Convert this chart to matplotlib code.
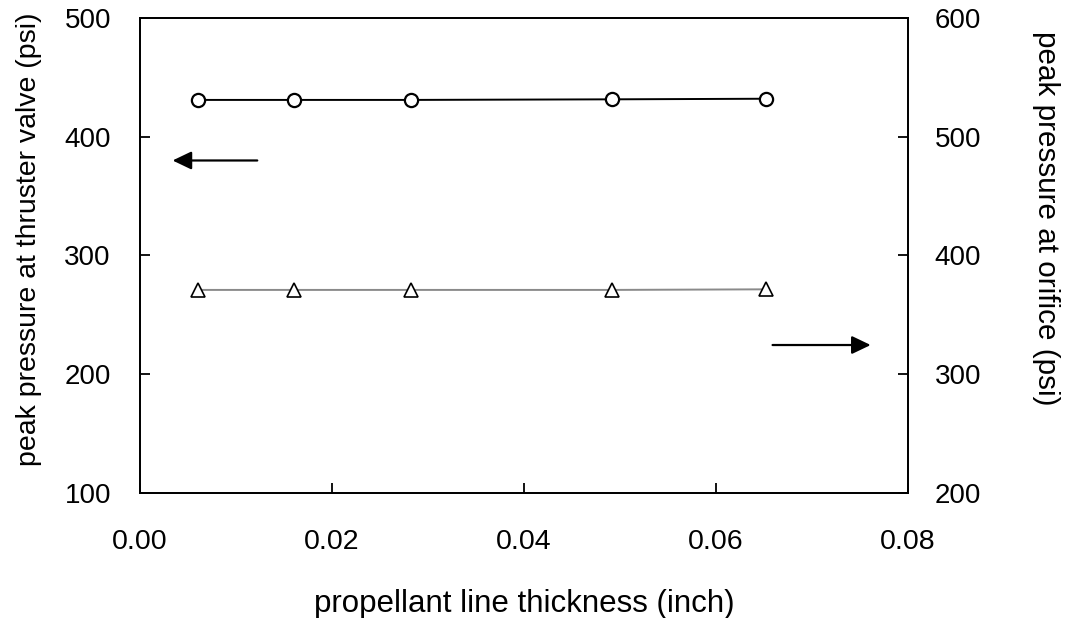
import numpy as np
import matplotlib.pyplot as plt

plt.rcParams['font.family'] = ['Liberation Sans', 'DejaVu Sans']

thickness = [0.0060, 0.0160, 0.0282, 0.0492, 0.0652]
p_valve = [431, 431, 431, 431.5, 432]
p_orifice = [371, 371, 371, 371, 371.5]

fig = plt.figure(figsize=(10.65, 6.18), dpi=100)
ax = fig.add_axes([0.1315, 0.2023, 0.7211, 0.7686])
ax2 = ax.twinx()

ax.plot(thickness, p_valve, '-o', color='black', lw=1.4, ms=9.5,
        mfc='white', mec='black', mew=1.6)
ax2.plot(thickness, p_orifice, '-^', color='#8a8a8a', lw=1.4, ms=10,
         mfc='white', mec='black', mew=1.2)

ax.set_xlim(0, 0.08)
ax.set_ylim(100, 500)
ax2.set_ylim(200, 600)
ax.set_xticks([0, 0.02, 0.04, 0.06, 0.08])
ax.set_yticks([100, 200, 300, 400, 500])
ax2.set_yticks([200, 300, 400, 500, 600])

ax.tick_params(axis='y', direction='in', length=7, width=1.3,
               labelsize=20, pad=21)
ax.tick_params(axis='x', direction='in', length=7, width=1.3,
               labelsize=20.5, pad=26)
ax2.tick_params(axis='y', direction='in', length=7, width=1.3,
                labelsize=20, pad=19)
for sp in list(ax.spines.values()) + list(ax2.spines.values()):
    sp.set_linewidth(1.3)

ax.set_xlabel('propellant line thickness (inch)', fontsize=22.5, va='top')
ax.xaxis.set_label_coords(0.5, -0.202)
ax.set_ylabel('peak pressure at thruster valve (psi)', fontsize=20.5,
              va='bottom')
ax.yaxis.set_label_coords(-0.1276, 0.535)
ax2.set_ylabel('peak pressure at orifice (psi)', fontsize=21.3, rotation=270,
               va='bottom')
ax2.yaxis.set_label_coords(1.1615, 0.579)

arrow = dict(arrowstyle='-|>,head_length=1.15,head_width=0.55',
             color='black', lw=1.6)
ax.annotate('', xy=(0.0031, 380), xytext=(0.0125, 380), arrowprops=arrow)
ax.annotate('', xy=(0.0764, 224.6), xytext=(0.0656, 224.6), arrowprops=arrow)

fig.savefig('out.png', dpi=100)
